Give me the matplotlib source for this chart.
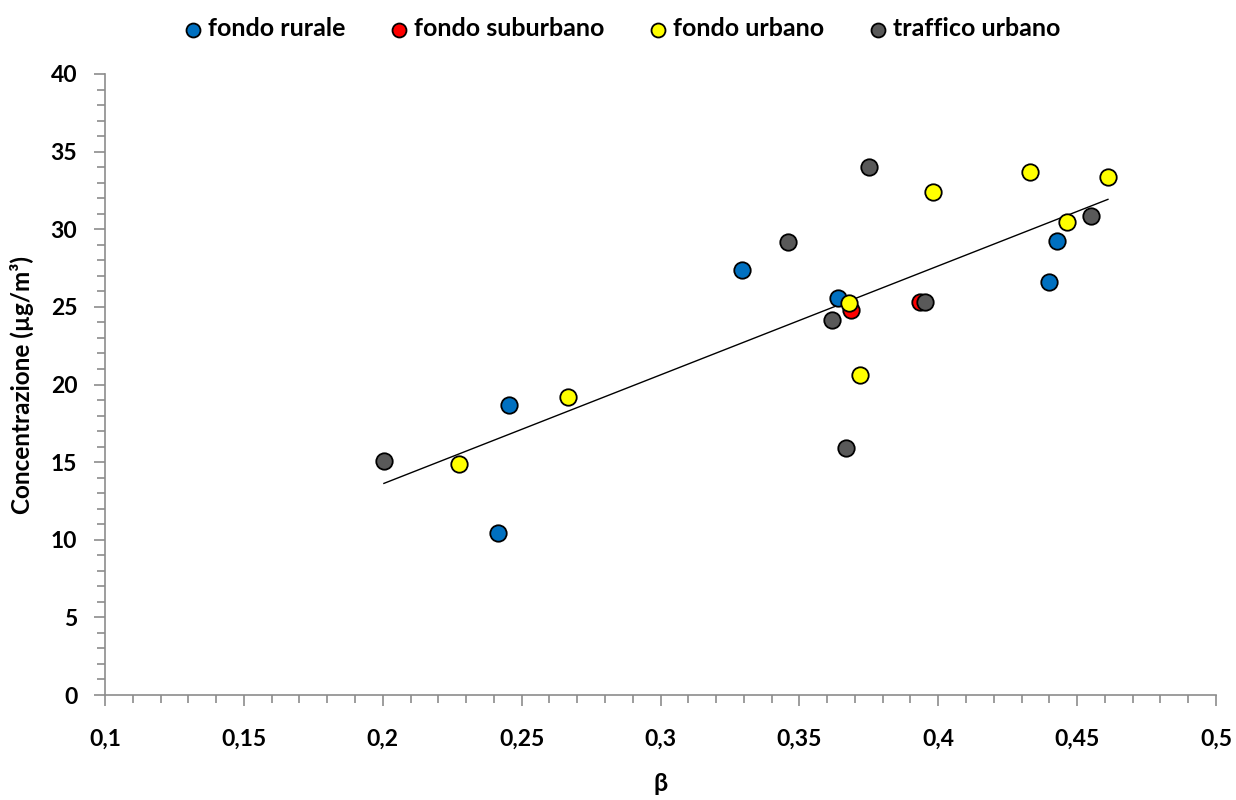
import numpy as np
import matplotlib
matplotlib.use("Agg")
import matplotlib.pyplot as plt
from matplotlib.ticker import MultipleLocator, FuncFormatter

plt.rcParams['font.family'] = ['Lato', 'DejaVu Sans']

# beta vs concentration per station type
rurale_x = [0.3293, 0.3639, 0.2455, 0.2415, 0.4428, 0.4399]
rurale_y = [27.4, 25.57, 18.68, 10.43, 29.24, 26.6]

suburbano_x = [0.3686, 0.3934]
suburbano_y = [24.8, 25.3]

urbano_x = [0.2275, 0.2667, 0.3679, 0.3718, 0.3981, 0.4330, 0.4464, 0.4611]
urbano_y = [14.88, 19.2, 25.25, 20.6, 32.4, 33.69, 30.47, 33.37]

traffico_x = [0.2004, 0.3459, 0.3751, 0.3618, 0.3668, 0.3952, 0.4550]
traffico_y = [15.07, 29.18, 34.0, 24.15, 15.9, 25.3, 30.85]

series = [
    ("fondo rurale", rurale_x, rurale_y, "#0070C0"),
    ("fondo suburbano", suburbano_x, suburbano_y, "#FF0000"),
    ("fondo urbano", urbano_x, urbano_y, "#FFFF00"),
    ("traffico urbano", traffico_x, traffico_y, "#595959"),
]

fig = plt.figure(figsize=(12.36, 8), dpi=100)
ax = fig.add_axes([0.085, 0.13125, 0.8988, 0.77625])

# linear trend over all stations
all_x = np.array(rurale_x + suburbano_x + urbano_x + traffico_x)
all_y = np.array(rurale_y + suburbano_y + urbano_y + traffico_y)
slope, intercept = np.polyfit(all_x, all_y, 1)
xs = np.array([all_x.min(), all_x.max()])
ax.plot(xs, slope * xs + intercept, color="black", lw=1.0, zorder=2)

for i, (name, xv, yv, col) in enumerate(series):
    ax.scatter(xv, yv, s=140, color=col, edgecolors="black", linewidths=1.3,
               zorder=3 + i, label=name)

ax.set_xlim(0.1, 0.5)
ax.set_ylim(0, 40)
ax.xaxis.set_major_locator(MultipleLocator(0.05))
ax.xaxis.set_minor_locator(MultipleLocator(0.01))
ax.yaxis.set_major_locator(MultipleLocator(5))
ax.yaxis.set_minor_locator(MultipleLocator(1))
ax.xaxis.set_major_formatter(FuncFormatter(lambda v, p: f"{v:g}".replace(".", ",")))

for side in ("top", "right"):
    ax.spines[side].set_visible(False)
for side in ("left", "bottom"):
    ax.spines[side].set_color("#8C8C8C")
    ax.spines[side].set_linewidth(1.2)
ax.tick_params(which="major", direction="out", length=8, width=1.2, color="#8C8C8C",
               labelsize=16.5, pad=12)
ax.tick_params(axis="x", which="major", pad=16)
ax.tick_params(which="minor", direction="out", length=6, width=1.2, color="#8C8C8C")
for lbl in ax.get_xticklabels() + ax.get_yticklabels():
    lbl.set_fontweight("bold")

ax.set_xlabel("β", fontsize=18, fontweight="bold", labelpad=16)
ax.set_ylabel("Concentrazione (µg/m³)", fontsize=17.5, fontweight="bold", labelpad=12)

fig.legend(loc="upper center", bbox_to_anchor=(0.503, 1.0), ncol=4, frameon=False,
           handlelength=0.8, handletextpad=0.2, columnspacing=1.75, markerscale=0.85,
           borderaxespad=0.3, prop={"weight": "bold", "size": 18})

fig.savefig("out.png", dpi=100)
